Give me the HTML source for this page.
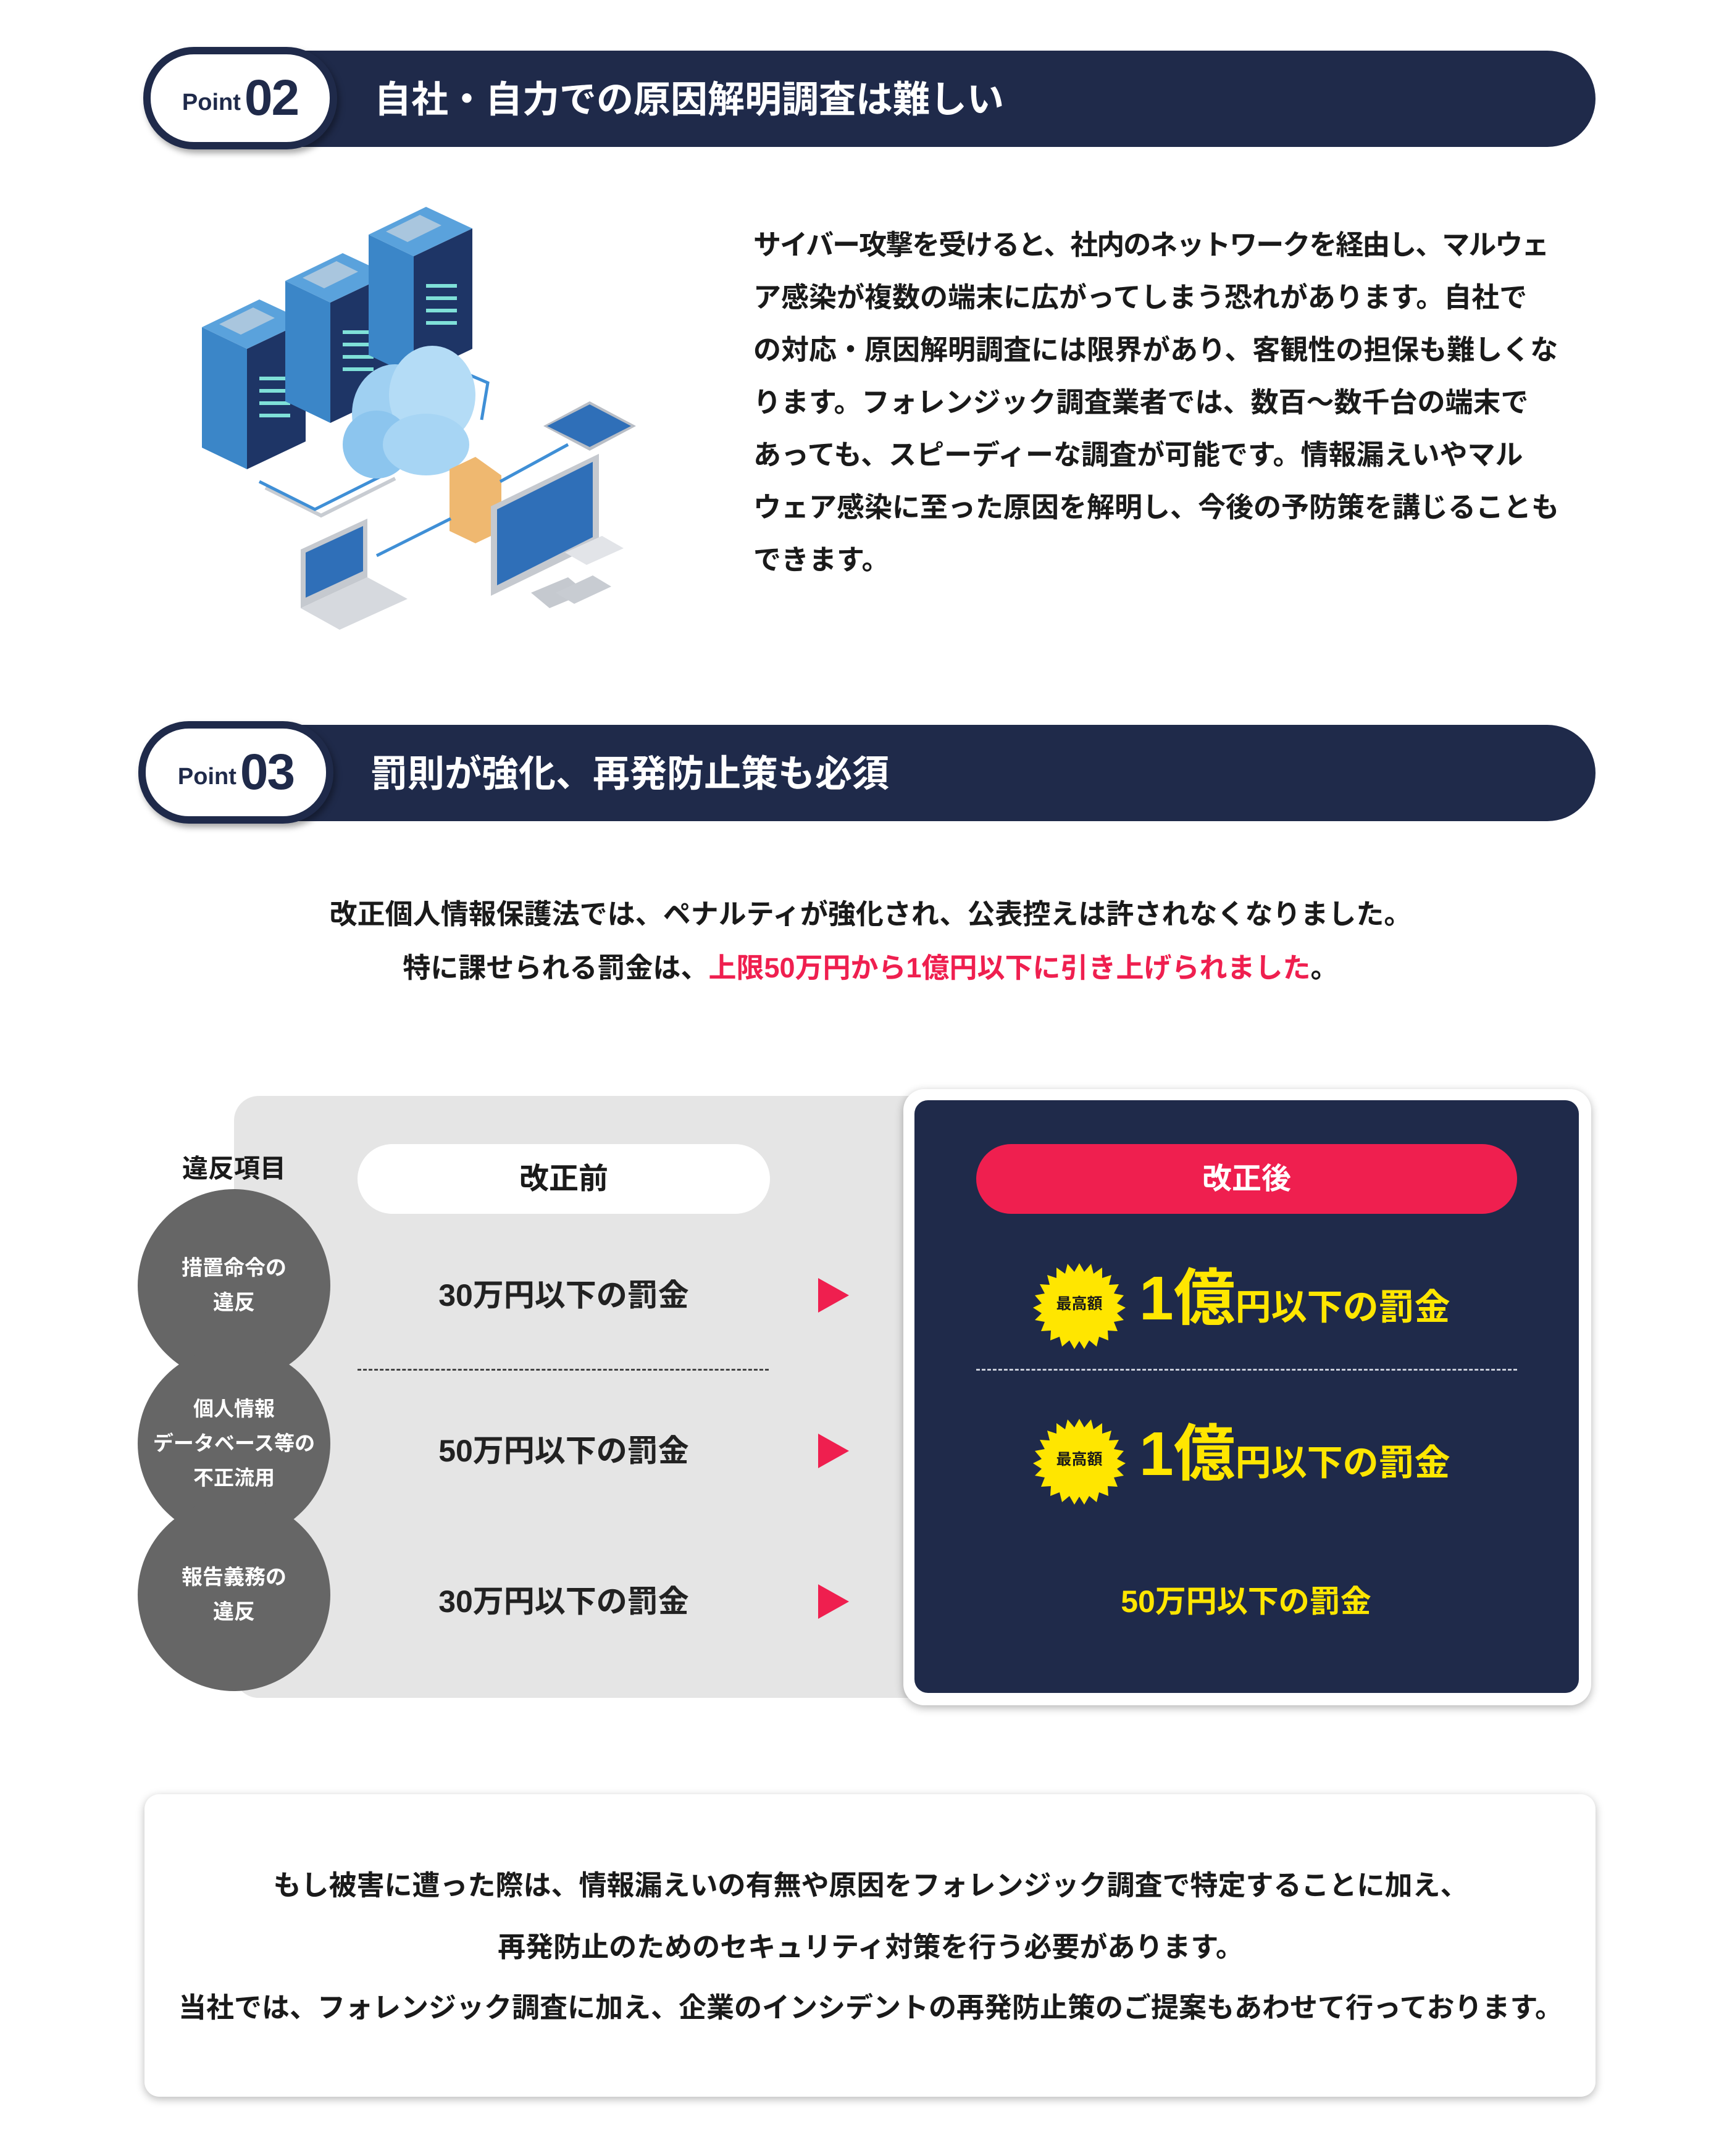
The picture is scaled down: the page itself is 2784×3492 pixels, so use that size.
<!DOCTYPE html>
<html><head><meta charset="utf-8"><style>
*{margin:0;padding:0;box-sizing:border-box}
body{width:2784px;height:3492px;background:#fff;position:relative;overflow:hidden;font-family:"Liberation Sans","Noto Sans CJK JP",sans-serif;color:#1a1a1a}
.a{position:absolute;white-space:nowrap}
.bar{position:absolute;background:#1f2a4a;border-radius:80px}
.pill{position:absolute;background:#fff;border:12px solid #1f2a4a;border-radius:82px;box-shadow:4px 6px 10px rgba(0,0,0,.35);display:flex;align-items:center;justify-content:center;color:#1f2a4a}
.pill .p{font-size:38px;font-weight:bold;margin-right:6px;margin-top:14px}
.pill .n{font-size:82px;font-weight:bold;letter-spacing:-2px}
.ttl{color:#fff;font-size:60px;font-weight:bold;line-height:80px}
.para{font-size:45px;font-weight:bold;line-height:85px;left:1220px;top:354px}
.c{transform:translateX(-50%);text-align:center}
.circ{position:absolute;width:312px;height:312px;border-radius:50%;background:#666;color:#fff;font-size:34px;font-weight:bold;display:flex;align-items:center;justify-content:center;text-align:center;line-height:56px}
.row{font-size:50px;font-weight:bold;color:#222;line-height:60px}
.arr{position:absolute;width:0;height:0;border-top:28px solid transparent;border-bottom:28px solid transparent;border-left:50px solid #ef1f4f}
.yel{color:#ffe600;font-weight:bold}
.bt{font-size:45px;font-weight:bold;line-height:60px}
</style></head><body>

<div class="bar" style="left:234px;top:82px;width:2350px;height:156px"></div>
<div class="pill" style="left:232px;top:76px;width:314px;height:166px"><span class="p">Point</span><span class="n">02</span></div>
<div class="a ttl" style="left:606px;top:122px">自社・自力での原因解明調査は難しい</div>

<svg class="a" style="left:0;top:0" width="1200" height="1020">
<g id="srv">
<polygon points="327,530 400,565 400,760 327,725" fill="#3b86c8"/>
<polygon points="400,565 495,520 495,715 400,760" fill="#1e3566"/>
<polygon points="327,530 420,485 495,520 400,565" fill="#5aa2dc"/>
<polygon points="355,525 410,498 445,515 390,542" fill="#a9c6de"/>
<rect x="420" y="610" width="50" height="6" fill="#7fe0d8"/><rect x="420" y="630" width="50" height="6" fill="#7fe0d8"/><rect x="420" y="650" width="50" height="6" fill="#7fe0d8"/><rect x="420" y="670" width="50" height="6" fill="#7fe0d8"/>
</g>
<use href="#srv" transform="translate(135,-75)"/>
<use href="#srv" transform="translate(270,-150)"/>
<polyline points="430,790 520,835 640,775" fill="none" stroke="#c8ccd2" stroke-width="6"/>
<polyline points="420,780 510,825 620,770" fill="none" stroke="#3f8fd6" stroke-width="5"/>
<polyline points="720,590 790,620 780,680" fill="none" stroke="#3f8fd6" stroke-width="5"/>
<ellipse cx="640" cy="670" rx="70" ry="80" fill="#9fd0f2"/>
<ellipse cx="700" cy="640" rx="70" ry="80" fill="#b4dcf6"/>
<ellipse cx="610" cy="720" rx="55" ry="55" fill="#8cc5ee"/>
<ellipse cx="690" cy="720" rx="70" ry="50" fill="#a7d5f4"/>
<polygon points="728,760 770,740 812,770 812,860 770,880 728,860" fill="#efb870"/>
<polyline points="610,900 730,840" stroke="#3f8fd6" stroke-width="5"/>
<polyline points="810,780 920,720" stroke="#3f8fd6" stroke-width="5"/>
<polygon points="880,690 955,650 1030,690 955,730" fill="#b9bec6"/>
<polygon points="886,690 955,655 1022,690 955,724" fill="#2f6fb8"/>
<polygon points="795,820 970,735 970,880 795,965" fill="#c5c9cf"/>
<polygon points="805,825 960,748 960,870 805,948" fill="#2f6fb8"/>
<polygon points="860,960 920,935 950,960 890,985" fill="#c5c9cf"/>
<polygon points="487,890 595,840 595,935 487,985" fill="#c5c9cf"/>
<polygon points="495,895 588,852 588,925 495,968" fill="#2f6fb8"/>
<polygon points="487,985 595,935 660,970 550,1020" fill="#d6d9de"/>
<polygon points="915,895 975,868 1010,888 950,915" fill="#e2e4e8"/>
<polygon points="900,960 960,932 990,950 930,978" fill="#c8ccd2"/>
</svg>

<div class="a para"><span style="letter-spacing:-2px">サイバー攻撃を受けると、社内のネットワークを経由し、マルウェ</span><br>ア感染が複数の端末に広がってしまう恐れがあります。自社で<br>の対応・原因解明調査には限界があり、客観性の担保も難しくな<br>ります。フォレンジック調査業者では、数百～数千台の端末で<br>あっても、スピーディーな調査が可能です。情報漏えいやマル<br>ウェア感染に至った原因を解明し、今後の予防策を講じることも<br>できます。</div>

<div class="bar" style="left:234px;top:1174px;width:2350px;height:156px"></div>
<div class="pill" style="left:224px;top:1168px;width:316px;height:166px"><span class="p">Point</span><span class="n">03</span></div>
<div class="a ttl" style="left:600px;top:1214px">罰則が強化、再発防止策も必須</div>

<div class="a c" style="left:1410px;top:1437px;font-size:45px;font-weight:bold;line-height:87px">改正個人情報保護法では、ペナルティが強化され、公表控えは許されなくなりました。<br>特に課せられる罰金は、<span style="color:#ef1f4f">上限50万円から1億円以下に引き上げられました</span>。</div>

<div class="a" style="left:379px;top:1775px;width:1100px;height:975px;background:#e5e5e5;border-radius:40px 0 0 40px"></div>
<div class="a c" style="left:379px;top:1863px;font-size:42px;font-weight:bold;line-height:60px">違反項目</div>
<div class="a" style="left:579px;top:1853px;width:668px;height:113px;background:#fff;border-radius:57px;font-size:48px;font-weight:bold;text-align:center;line-height:113px">改正前</div>
<div class="a" style="left:579px;top:2217px;width:666px;border-top:3px dashed #444"></div>
<div class="circ" style="left:223px;top:1926px">措置命令の<br>違反</div>
<div class="circ" style="left:223px;top:2182px;font-size:33px">個人情報<br>データベース等の<br>不正流用</div>
<div class="circ" style="left:223px;top:2427px">報告義務の<br>違反</div>
<div class="a c row" style="left:913px;top:2068px">30万円以下の罰金</div>
<div class="a c row" style="left:913px;top:2320px">50万円以下の罰金</div>
<div class="a c row" style="left:913px;top:2564px">30万円以下の罰金</div>
<div class="arr" style="left:1325px;top:2070px"></div>
<div class="arr" style="left:1325px;top:2322px"></div>
<div class="arr" style="left:1325px;top:2566px"></div>

<div class="a" style="left:1463px;top:1764px;width:1114px;height:998px;background:#fff;border-radius:34px;box-shadow:0 4px 14px rgba(0,0,0,.3)"></div>
<div class="a" style="left:1481px;top:1782px;width:1076px;height:960px;background:#1f2a4a;border-radius:22px"></div>
<div class="a" style="left:1581px;top:1853px;width:876px;height:113px;background:#ef1f4f;border-radius:57px;font-size:48px;font-weight:bold;color:#fff;text-align:center;line-height:113px">改正後</div>
<div class="a" style="left:1581px;top:2217px;width:876px;border-top:3px dashed #c8ccd8"></div>

<svg class="a" style="left:1670px;top:2030px" width="160" height="480">
<polygon id="st1" fill="#ffe600" points="78,16 86,30 97,17 101,33 115,23 115,40 130,35 126,51 142,50 134,65 150,68 139,81 153,88 139,97 150,108 134,111 140,126 124,125 125,141 110,135 106,151 94,141 86,155 78,142 70,155 62,141 50,151 46,135 31,141 32,125 16,126 22,111 6,108 17,97 3,88 17,81 6,68 22,65 14,50 30,51 26,35 41,40 41,23 55,33 59,17 70,30"/>
<use href="#st1" transform="translate(0,252)"/>
<text x="78" y="90" text-anchor="middle" font-size="25" font-weight="bold" fill="#1a1a1a" font-family="Liberation Sans, Noto Sans CJK JP, sans-serif">最高額</text>
<text x="78" y="342" text-anchor="middle" font-size="25" font-weight="bold" fill="#1a1a1a" font-family="Liberation Sans, Noto Sans CJK JP, sans-serif">最高額</text>
</svg>
<div class="a yel" style="left:1845px;top:2048px;line-height:110px"><span style="font-size:100px">1億</span><span style="font-size:58px">円以下の罰金</span></div>
<div class="a yel" style="left:1845px;top:2300px;line-height:110px"><span style="font-size:100px">1億</span><span style="font-size:58px">円以下の罰金</span></div>
<div class="a c yel" style="left:2018px;top:2564px;font-size:50px;line-height:60px">50万円以下の罰金</div>

<div class="a" style="left:234px;top:2906px;width:2350px;height:490px;background:#fff;border-radius:24px;box-shadow:0 4px 14px rgba(0,0,0,.28)"></div>
<div class="a c bt" style="left:1410px;top:3024px">もし被害に遭った際は、情報漏えいの有無や原因をフォレンジック調査で特定することに加え、</div>
<div class="a c bt" style="left:1410px;top:3124px">再発防止のためのセキュリティ対策を行う必要があります。</div>
<div class="a c bt" style="left:1410px;top:3222px">当社では、フォレンジック調査に加え、企業のインシデントの再発防止策のご提案もあわせて行っております。</div>
</body></html>
